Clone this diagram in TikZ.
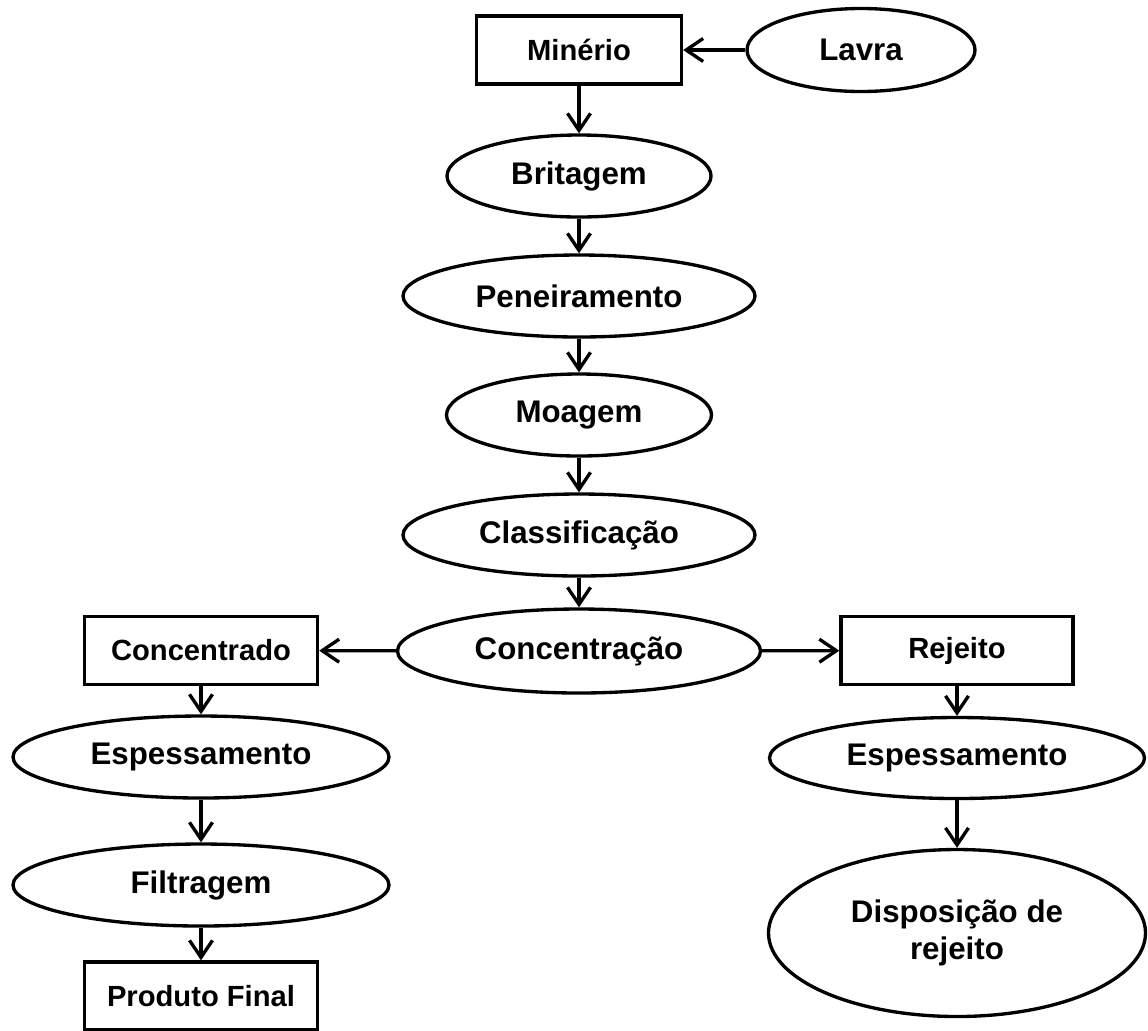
\documentclass[tikz,border=0pt]{standalone}
\usepackage{fontspec}
\setmainfont{Liberation Sans}
\usetikzlibrary{shapes.geometric, arrows.meta}
\def\lw{1.9pt}
\def\tip{{Straight Barb[length=0.34cm, width=0.46cm]}}

\tikzset{
  box/.style={draw, line width=\lw, rectangle, minimum height=1.36cm, inner sep=0pt,
    font=\bfseries\fontsize{16.6}{20}\selectfont},
  oval/.style={draw, line width=\lw, ellipse, minimum height=1.64cm, inner sep=0pt,
    font=\bfseries\fontsize{17.8}{21}\selectfont},
  flow/.style={line width=\lw, -\tip},
}

\begin{document}
\begin{tikzpicture}[every node/.style={align=center}]
\useasboundingbox (0,0) rectangle (22.96,-20.6);

% main line
\node[box, minimum width=4.1cm] (min) at (11.58,-1.0) {Minério};
\node[oval, minimum width=4.56cm, minimum height=1.66cm] (lav) at (17.22,-1.0) {Lavra};
\node[oval, minimum width=5.28cm] (brit) at (11.58,-3.52) {Britagem};
\node[oval, minimum width=7.04cm] (pen) at (11.58,-5.92) {Peneiramento};
\node[oval, minimum width=5.3cm] (moa) at (11.58,-8.3) {Moagem};
\node[oval, minimum width=7.04cm] (cla) at (11.58,-10.7) {Classificação};
\node[oval, minimum width=7.26cm, minimum height=1.68cm] (conc) at (11.58,-13.02) {Concentração};

% left branch
\node[box, minimum width=4.66cm] (cdo) at (4.02,-13.01) {Concentrado};
\node[oval, minimum width=7.52cm] (espL) at (4.02,-15.14) {Espessamento};
\node[oval, minimum width=7.52cm] (fil) at (4.02,-17.7) {Filtragem};
\node[box, minimum width=4.66cm] (prod) at (4.02,-19.92) {Produto Final};

% right branch
\node[box, minimum width=4.64cm] (rej) at (19.14,-13.01) {Rejeito};
\node[oval, minimum width=7.5cm, minimum height=1.62cm] (espR) at (19.14,-15.16) {Espessamento};
\node[oval, minimum width=7.54cm, minimum height=3.34cm] (disp) at (19.14,-18.66) {Disposição de\\rejeito};

\draw[flow] (lav) -- (min);
\draw[flow] (conc) -- (cdo);
\draw[flow] (conc) -- (rej);
\foreach \a/\b in {min/brit, brit/pen, pen/moa, moa/cla, cla/conc, cdo/espL, espL/fil, fil/prod, rej/espR, espR/disp}{
	\draw[flow] (\a) -- (\b);
}
\end{tikzpicture}
\end{document}
